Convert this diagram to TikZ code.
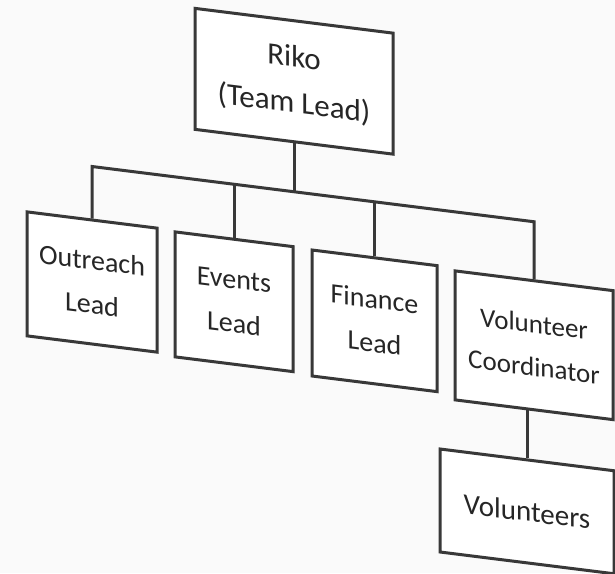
\documentclass[tikz,border=0pt]{standalone}
\usepackage{fontspec}
\setmainfont{Carlito}
\begin{document}
\begin{tikzpicture}[x=1pt,y=-1pt,
  orgbox/.style={draw=black!78, line width=3pt, fill=white, inner sep=0pt,
    align=center, text=black!85, font=\fontsize{28}{44}\selectfont},
  link/.style={draw=black!78, line width=3pt, line join=miter}]
  % page frame
  \fill[black!2] (0,0) rectangle (615,573);
  \useasboundingbox (0,0) rectangle (615,573);
  % the whole chart is drawn on a sheared plane
  \begin{scope}[yslant=-0.125, transform shape]
    \node[orgbox, minimum width=198pt, minimum height=121pt,
      font=\fontsize{31}{46}\selectfont] (lead) at (294,44.5) {Riko\\(Team Lead)};
    \node[orgbox, minimum width=130pt, minimum height=124pt] (out) at (92,270.5) {Outreach\\Lead};
    \node[orgbox, minimum width=118pt, minimum height=125pt] (ev) at (234,272.5) {Events\\Lead};
    \node[orgbox, minimum width=125pt, minimum height=126pt] (fin) at (374.5,274) {Finance\\Lead};
    \node[orgbox, minimum width=158pt, minimum height=129pt,
      font=\fontsize{27}{43}\selectfont] (vc) at (534,278.5) {Volunteer\\Coordinator};
    \node[orgbox, minimum width=174pt, minimum height=103pt,
      font=\fontsize{29}{44}\selectfont] (vol) at (527,445.5) {Volunteers};
    % branch points on the shared bar
    \coordinate (hub) at (294,155);
    \coordinate (jout) at (92,155);
    \coordinate (jev) at (234,155);
    \coordinate (jfin) at (374.5,155);
    \coordinate (jvc) at (534,155);
    \draw[link] (lead.south) -- (hub);
    \draw[link] (out.north) -- (jout) -- (jvc) -- (vc.north);
    \draw[link] (ev.north) -- (jev);
    \draw[link] (fin.north) -- (jfin);
    \draw[link] (vc.south -| vol.north) -- (vol.north);
  \end{scope}
\end{tikzpicture}
\end{document}
